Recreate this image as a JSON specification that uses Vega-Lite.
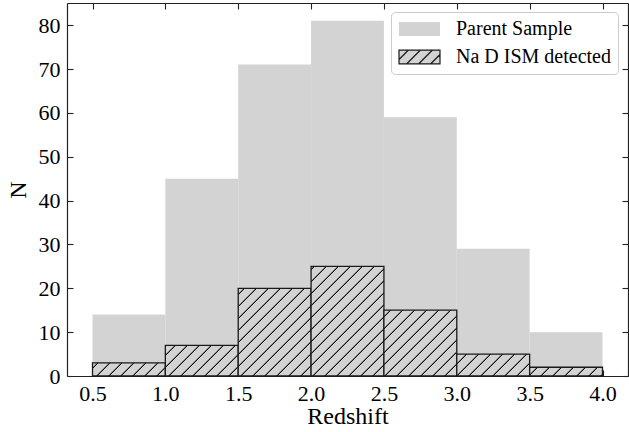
{
  "$schema": "https://vega.github.io/schema/vega-lite/v6.json",
  "width": 561,
  "height": 373,
  "autosize": {"type": "none"},
  "padding": {"left": 67, "top": 3, "right": 1, "bottom": 56},
  "background": "white",
  "config": {
    "view": {"stroke": null},
    "axis": {
      "labelFont": "Liberation Serif, Times New Roman, serif",
      "labelFontSize": 22,
      "labelColor": "black",
      "titleFont": "Liberation Serif, Times New Roman, serif",
      "titleFontSize": 24,
      "titleFontWeight": "normal",
      "titleColor": "black",
      "tickColor": "#222",
      "tickSize": -6,
      "tickWidth": 1.1,
      "domainColor": "#222",
      "domainWidth": 1.2,
      "grid": false,
      "zindex": 1
    }
  },
  "resolve": {"axis": {"x": "independent", "y": "independent"}},
  "layer": [
    {
      "data": {"values": [
        {"s": 0.5, "e": 1.0, "n": 14, "series": "Parent Sample"},
        {"s": 1.0, "e": 1.5, "n": 45, "series": "Parent Sample"},
        {"s": 1.5, "e": 2.0, "n": 71, "series": "Parent Sample"},
        {"s": 2.0, "e": 2.5, "n": 81, "series": "Parent Sample"},
        {"s": 2.5, "e": 3.0, "n": 59, "series": "Parent Sample"},
        {"s": 3.0, "e": 3.5, "n": 29, "series": "Parent Sample"},
        {"s": 3.5, "e": 4.0, "n": 10, "series": "Parent Sample"}
      ]},
      "mark": {"type": "rect", "fill": "#d3d3d3", "strokeWidth": 1.3},
      "encoding": {
        "x": {"field": "s", "type": "quantitative",
          "scale": {"domain": [0.325, 4.175], "nice": false, "zero": false},
          "axis": {"orient": "bottom", "values": [0.5, 1.0, 1.5, 2.0, 2.5, 3.0, 3.5, 4.0], "format": ".1f", "labelPadding": 13, "title": "Redshift", "titleBaseline": "alphabetic", "titleY": 47.5, "labelFlush": false}},
        "x2": {"field": "e"},
        "y": {"field": "n", "type": "quantitative",
          "scale": {"domain": [0, 85.05], "nice": false, "zero": true},
          "axis": {"orient": "left", "values": [0, 10, 20, 30, 40, 50, 60, 70, 80], "labelPadding": 13, "title": "N", "titleBaseline": "alphabetic", "titleX": -41.5, "titleY": 186.5}},
        "y2": {"datum": 0},
        "stroke": {"field": "series", "type": "nominal",
          "scale": {"domain": ["Parent Sample", "Na D ISM detected"], "range": ["transparent", "#1a1a1a"]},
          "legend": {
            "orient": "none", "legendX": 324, "legendY": 9, "title": null,
            "symbolType": "M-1,-0.34H1V0.34H-1Z M-1,0.1225L-0.5375,-0.34 M-0.6325,0.34L0.0475,-0.34 M-0.0475,0.34L0.6325,-0.34 M0.5375,0.34L1,-0.1225",
            "symbolSize": 1681, "clipHeight": 20, "symbolStrokeWidth": 1.2, "symbolFillColor": "#d3d3d3", "symbolOpacity": 1,
            "rowPadding": 8, "labelOffset": 15, "padding": 7,
            "labelFont": "Liberation Serif, Times New Roman, serif", "labelFontSize": 20, "labelColor": "black",
            "strokeColor": "#cccccc", "cornerRadius": 4, "fillColor": "rgba(255,255,255,0.8)"
          }}
      }
    },
    {
      "data": {"values": [
        {"s": 0.5, "e": 1.0, "n": 3},
        {"s": 1.0, "e": 1.5, "n": 7},
        {"s": 1.5, "e": 2.0, "n": 20},
        {"s": 2.0, "e": 2.5, "n": 25},
        {"s": 2.5, "e": 3.0, "n": 15},
        {"s": 3.0, "e": 3.5, "n": 5},
        {"s": 3.5, "e": 4.0, "n": 2}
      ]},
      "mark": {"type": "rect", "stroke": "#1a1a1a", "strokeWidth": 1.3,
        "fill": {"expr": "{gradient:'linear',x1:((((6.7-scale('x',datum.s)-scale('y',datum.n))%12)+12)%12-12)/((scale('x',datum.e)-scale('x',datum.s))+(scale('y',0)-scale('y',datum.n))),y1:((((6.7-scale('x',datum.s)-scale('y',datum.n))%12)+12)%12-12)/((scale('x',datum.e)-scale('x',datum.s))+(scale('y',0)-scale('y',datum.n))),x2:((((6.7-scale('x',datum.s)-scale('y',datum.n))%12)+12)%12-12)/((scale('x',datum.e)-scale('x',datum.s))+(scale('y',0)-scale('y',datum.n)))+216*(scale('x',datum.e)-scale('x',datum.s))/(pow(scale('x',datum.e)-scale('x',datum.s),2)+pow(scale('y',0)-scale('y',datum.n),2)),y2:((((6.7-scale('x',datum.s)-scale('y',datum.n))%12)+12)%12-12)/((scale('x',datum.e)-scale('x',datum.s))+(scale('y',0)-scale('y',datum.n)))+216*(scale('y',0)-scale('y',datum.n))/(pow(scale('x',datum.e)-scale('x',datum.s),2)+pow(scale('y',0)-scale('y',datum.n),2)),stops:[{offset:0,color:'#111'},{offset:0.00139,color:'#111'},{offset:0.00463,color:'#d3d3d3'},{offset:0.05093,color:'#d3d3d3'},{offset:0.05417,color:'#111'},{offset:0.05695,color:'#111'},{offset:0.06019,color:'#d3d3d3'},{offset:0.10648,color:'#d3d3d3'},{offset:0.10972,color:'#111'},{offset:0.1125,color:'#111'},{offset:0.11574,color:'#d3d3d3'},{offset:0.16204,color:'#d3d3d3'},{offset:0.16528,color:'#111'},{offset:0.16806,color:'#111'},{offset:0.1713,color:'#d3d3d3'},{offset:0.21759,color:'#d3d3d3'},{offset:0.22083,color:'#111'},{offset:0.22361,color:'#111'},{offset:0.22685,color:'#d3d3d3'},{offset:0.27315,color:'#d3d3d3'},{offset:0.27639,color:'#111'},{offset:0.27917,color:'#111'},{offset:0.28241,color:'#d3d3d3'},{offset:0.3287,color:'#d3d3d3'},{offset:0.33194,color:'#111'},{offset:0.33472,color:'#111'},{offset:0.33796,color:'#d3d3d3'},{offset:0.38426,color:'#d3d3d3'},{offset:0.3875,color:'#111'},{offset:0.39028,color:'#111'},{offset:0.39352,color:'#d3d3d3'},{offset:0.43981,color:'#d3d3d3'},{offset:0.44305,color:'#111'},{offset:0.44583,color:'#111'},{offset:0.44907,color:'#d3d3d3'},{offset:0.49537,color:'#d3d3d3'},{offset:0.49861,color:'#111'},{offset:0.50139,color:'#111'},{offset:0.50463,color:'#d3d3d3'},{offset:0.55093,color:'#d3d3d3'},{offset:0.55417,color:'#111'},{offset:0.55695,color:'#111'},{offset:0.56019,color:'#d3d3d3'},{offset:0.60648,color:'#d3d3d3'},{offset:0.60972,color:'#111'},{offset:0.6125,color:'#111'},{offset:0.61574,color:'#d3d3d3'},{offset:0.66204,color:'#d3d3d3'},{offset:0.66528,color:'#111'},{offset:0.66806,color:'#111'},{offset:0.6713,color:'#d3d3d3'},{offset:0.71759,color:'#d3d3d3'},{offset:0.72083,color:'#111'},{offset:0.72361,color:'#111'},{offset:0.72685,color:'#d3d3d3'},{offset:0.77315,color:'#d3d3d3'},{offset:0.77639,color:'#111'},{offset:0.77917,color:'#111'},{offset:0.78241,color:'#d3d3d3'},{offset:0.8287,color:'#d3d3d3'},{offset:0.83194,color:'#111'},{offset:0.83472,color:'#111'},{offset:0.83796,color:'#d3d3d3'},{offset:0.88426,color:'#d3d3d3'},{offset:0.8875,color:'#111'},{offset:0.89028,color:'#111'},{offset:0.89352,color:'#d3d3d3'},{offset:0.93981,color:'#d3d3d3'},{offset:0.94305,color:'#111'},{offset:0.94583,color:'#111'},{offset:0.94907,color:'#d3d3d3'},{offset:1,color:'#d3d3d3'}]}"}
      },
      "encoding": {
        "x": {"field": "s", "type": "quantitative",
          "scale": {"domain": [0.325, 4.175], "nice": false, "zero": false},
          "axis": {"orient": "top", "values": [0.5, 1.0, 1.5, 2.0, 2.5, 3.0, 3.5, 4.0], "labels": false, "title": null}},
        "x2": {"field": "e"},
        "y": {"field": "n", "type": "quantitative",
          "scale": {"domain": [0, 85.05], "nice": false, "zero": true},
          "axis": {"orient": "right", "values": [0, 10, 20, 30, 40, 50, 60, 70, 80], "labels": false, "title": null}},
        "y2": {"datum": 0}
      }
    }
  ]
}
